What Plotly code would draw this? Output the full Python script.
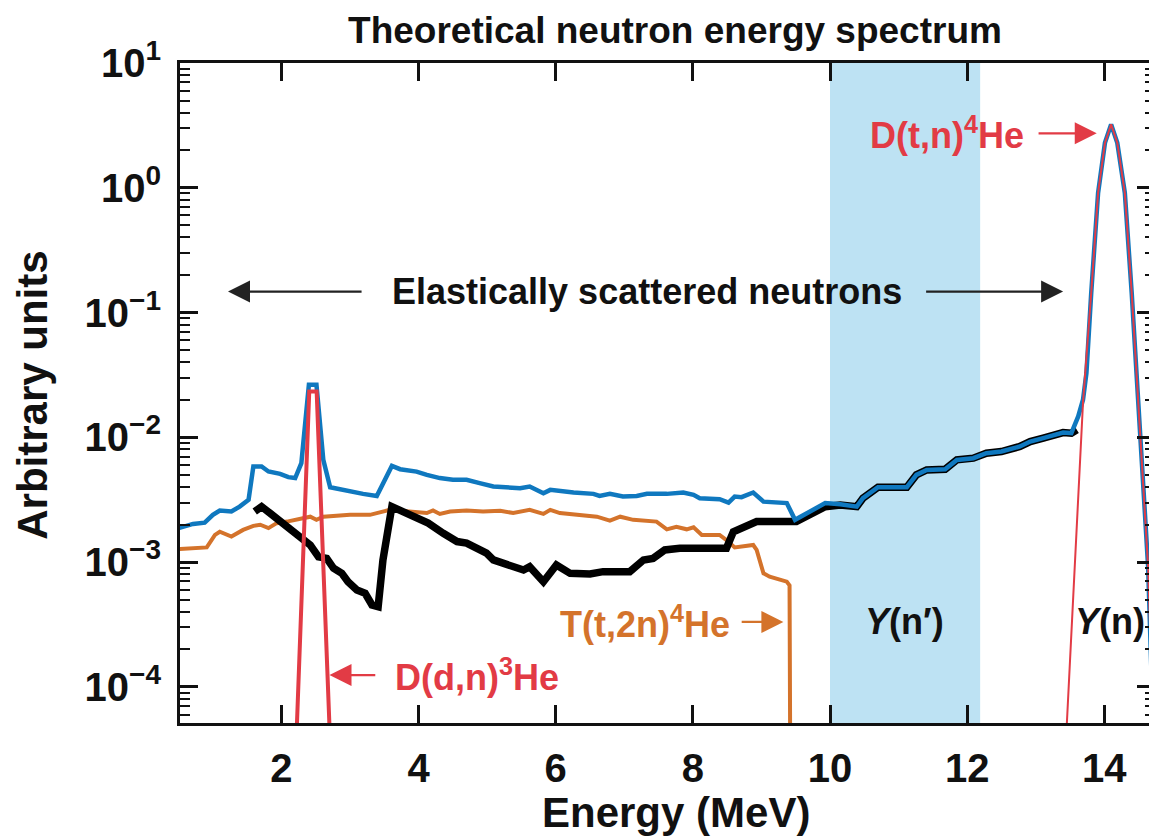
import plotly.graph_objects as go

# ---------------- data ----------------
total_x = [0.50, 0.71, 0.88, 1.00, 1.10, 1.27, 1.39, 1.52, 1.59, 1.71, 1.81, 1.98, 2.10, 2.20,
           2.29, 2.40, 2.51, 2.61, 2.71, 3.00, 3.19, 3.39, 3.61, 3.73, 3.97, 4.12, 4.31, 4.50,
           4.70, 4.89, 5.09, 5.48, 5.62, 5.82, 5.92, 6.26, 6.55, 6.64, 6.79, 6.98, 7.18, 7.33,
           7.62, 7.86, 8.01, 8.10, 8.39, 8.52, 8.61, 8.71, 8.88, 9.03, 9.17, 9.37, 9.49, 9.71,
           9.93, 10.15, 10.39, 10.48, 10.70, 11.12, 11.26, 11.41, 11.68, 11.85, 12.09, 12.28,
           12.50, 12.77, 12.92, 13.11, 13.40, 13.52, 13.62, 13.69, 13.74, 13.81, 13.91, 14.01,
           14.10, 14.19, 14.30, 14.40, 14.49, 14.64, 14.71, 14.80]
total_y = [1.87e-3, 2.02e-3, 2.07e-3, 2.39e-3, 2.59e-3, 2.54e-3, 2.78e-3, 3.15e-3, 5.83e-3,
           5.83e-3, 5.32e-3, 5.09e-3, 4.79e-3, 4.71e-3, 6.21e-3, 2.64e-2, 2.64e-2, 6.59e-3,
           3.98e-3, 3.67e-3, 3.52e-3, 3.39e-3, 5.90e-3, 5.55e-3, 5.31e-3, 5.00e-3, 4.71e-3,
           4.56e-3, 4.56e-3, 4.29e-3, 4.03e-3, 3.91e-3, 4.03e-3, 3.56e-3, 3.79e-3, 3.61e-3,
           3.52e-3, 3.39e-3, 3.52e-3, 3.35e-3, 3.39e-3, 3.52e-3, 3.52e-3, 3.61e-3, 3.46e-3,
           3.25e-3, 3.19e-3, 3.00e-3, 3.35e-3, 3.31e-3, 3.61e-3, 3.05e-3, 3.00e-3, 2.97e-3,
           2.18e-3, 2.54e-3, 2.97e-3, 2.90e-3, 2.78e-3, 3.25e-3, 3.98e-3, 3.98e-3, 5.00e-3,
           5.48e-3, 5.55e-3, 6.59e-3, 6.80e-3, 7.46e-3, 7.69e-3, 8.44e-3, 9.25e-3, 9.86e-3,
           1.09e-2, 1.08e-2, 1.47e-2, 2.00e-2, 3.27e-2, 0.144, 0.91, 2.29, 3.22, 2.29, 0.91,
           0.144, 2.27e-2, 9.1e-4, 5.4e-5, 2.0e-6]

elastic_x = [1.61, 1.71, 1.83, 2.08, 2.22, 2.42, 2.54, 2.66, 2.76, 2.88, 2.97, 3.10, 3.22, 3.32,
             3.41, 3.48, 3.61, 3.78, 3.97, 4.14, 4.36, 4.56, 4.70, 4.87, 4.99, 5.09, 5.33, 5.53,
             5.62, 5.82, 6.01, 6.21, 6.50, 6.69, 7.08, 7.28, 7.42, 7.59, 7.81, 8.49, 8.59, 8.78,
             8.93, 9.51, 9.76, 9.93, 10.15, 10.39, 10.48, 10.70, 11.12, 11.26, 11.41, 11.68,
             11.85, 12.09, 12.28, 12.50, 12.77, 12.92, 13.11, 13.40, 13.52, 13.60]
elastic_y = [2.54e-3, 2.78e-3, 2.47e-3, 1.92e-3, 1.70e-3, 1.37e-3, 1.10e-3, 1.07e-3, 8.91e-4,
             8.12e-4, 6.96e-4, 5.97e-4, 5.62e-4, 4.53e-4, 4.39e-4, 1.04e-3, 2.78e-3, 2.54e-3,
             2.25e-3, 2.05e-3, 1.70e-3, 1.46e-3, 1.42e-3, 1.25e-3, 1.18e-3, 1.04e-3, 9.47e-4,
             8.63e-4, 9.18e-4, 6.96e-4, 9.47e-4, 8.12e-4, 8.02e-4, 8.38e-4, 8.38e-4, 1.04e-3,
             1.07e-3, 1.25e-3, 1.29e-3, 1.29e-3, 1.75e-3, 1.98e-3, 2.11e-3, 2.11e-3, 2.47e-3,
             2.78e-3, 2.87e-3, 2.78e-3, 3.25e-3, 3.98e-3, 3.98e-3, 5.00e-3, 5.48e-3, 5.55e-3,
             6.59e-3, 6.80e-3, 7.46e-3, 7.69e-3, 8.44e-3, 9.25e-3, 9.86e-3, 1.09e-2, 1.08e-2,
             1.15e-2]

tt_x = [0.50, 0.71, 0.91, 1.03, 1.10, 1.27, 1.44, 1.59, 1.69, 1.81, 1.93, 2.08, 2.22, 2.37,
        2.42, 2.51, 2.61, 3.00, 3.29, 3.58, 3.87, 4.12, 4.21, 4.31, 4.46, 4.70, 4.94, 5.19,
        5.38, 5.62, 5.82, 5.92, 6.06, 6.35, 6.60, 6.79, 6.94, 7.13, 7.47, 7.62, 7.76, 7.91,
        8.01, 8.13, 8.39, 8.49, 8.61, 8.88, 8.93, 9.03, 9.12, 9.37, 9.41, 9.43]
tt_y = [1.27e-3, 1.29e-3, 1.31e-3, 1.65e-3, 1.75e-3, 1.60e-3, 1.81e-3, 1.95e-3, 1.99e-3,
        1.87e-3, 2.05e-3, 2.11e-3, 2.18e-3, 2.25e-3, 2.31e-3, 2.18e-3, 2.31e-3, 2.39e-3,
        2.39e-3, 2.62e-3, 2.54e-3, 2.47e-3, 2.59e-3, 2.43e-3, 2.54e-3, 2.59e-3, 2.54e-3,
        2.58e-3, 2.47e-3, 2.62e-3, 2.43e-3, 2.62e-3, 2.47e-3, 2.39e-3, 2.31e-3, 2.15e-3,
        2.31e-3, 2.18e-3, 2.11e-3, 1.83e-3, 1.92e-3, 1.83e-3, 1.90e-3, 1.65e-3, 1.65e-3,
        1.50e-3, 1.31e-3, 1.37e-3, 1.25e-3, 8.12e-4, 7.64e-4, 6.96e-4, 6.5e-4, 1.0e-6]

dd_x = [2.20, 2.405, 2.513, 2.72]
dd_y = [2.1e-5, 2.33e-2, 2.33e-2, 2.5e-5]

dt_x = [13.40, 13.69, 13.81, 13.91, 14.01, 14.10, 14.19, 14.30, 14.40, 14.49, 14.64, 14.71, 14.80]
dt_y = [1.3e-5, 1.9e-2, 0.144, 0.91, 2.29, 3.22, 2.29, 0.91, 0.144, 2.27e-2, 9.1e-4, 5.4e-5, 2.0e-6]

y_tick_vals = [1e-4, 1e-3, 1e-2, 1e-1, 1e0, 1e1]
y_tick_text = ["10<sup>−4</sup>", "10<sup>−3</sup>", "10<sup>−2</sup>",
               "10<sup>−1</sup>", "10<sup>0</sup>", "10<sup>1</sup>"]
x_tick_vals = [2, 4, 6, 8, 10, 12, 14]
yn_prime_band = [10.0, 12.19]

# ---------------- style ----------------
FONT = "Liberation Sans, Arial, Helvetica, sans-serif"
BLUE = "#0f78bf"
BLACK = "#000000"
ORANGE = "#d4732b"
RED = "#e23b45"
BAND = "#bde2f3"
INK = "#111111"

# the page body adds an 8 px offset; figure is sized so the plot lands where the reference has it
FIG_W, FIG_H = 1149, 832

minor_vals = [m * 10.0 ** e for e in range(-5, 1) for m in range(2, 10)]

fig = go.Figure()
fig.add_trace(go.Scatter(x=tt_x, y=tt_y, mode="lines", line=dict(color=ORANGE, width=4),
                         name="T(t,2n)4He"))
fig.add_trace(go.Scatter(x=elastic_x, y=elastic_y, mode="lines", line=dict(color=BLACK, width=7.5),
                         name="elastic"))
fig.add_trace(go.Scatter(x=total_x, y=total_y, mode="lines", line=dict(color=BLUE, width=4.5),
                         name="total"))
fig.add_trace(go.Scatter(x=dd_x, y=dd_y, mode="lines", line=dict(color=RED, width=4),
                         name="D(d,n)3He"))
fig.add_trace(go.Scatter(x=dt_x, y=dt_y, mode="lines", line=dict(color=RED, width=2),
                         name="D(t,n)4He"))

fig.add_shape(type="rect", xref="x", yref="paper", x0=yn_prime_band[0], x1=yn_prime_band[1],
              y0=0, y1=1, fillcolor=BAND, line=dict(width=0), layer="below")

ann = []
def text(x, y, s, color, size=36, xref="x", yref="y", angle=0):
    ann.append(dict(x=x, y=y, xref=xref, yref=yref, text=s, showarrow=False,
                    font=dict(family=FONT, size=size, color=color), textangle=angle,
                    xanchor="center", yanchor="middle"))

def arrow(xh, yh, xt, yt, color):
    ann.append(dict(x=xh, y=yh, ax=xt, ay=yt, xref="x", yref="y", axref="x", ayref="y",
                    text="", showarrow=True, arrowhead=2, arrowsize=2.0, arrowwidth=2.2,
                    arrowcolor=color))

text(7.33, -0.832, "<b>Elastically scattered neutrons</b>", INK)
arrow(1.22, -0.832, 3.19, -0.832, "#222222")
arrow(13.40, -0.832, 11.38, -0.832, "#222222")

text(11.70, 0.436, "<b>D(t,n)<sup>4</sup>He</b>", RED)
arrow(13.89, 0.436, 13.02, 0.436, RED)

text(4.85, -3.906, "<b>D(d,n)<sup>3</sup>He</b>", RED)
arrow(2.70, -3.906, 3.39, -3.906, RED)

text(7.30, -3.48, "<b>T(t,2n)<sup>4</sup>He</b>", ORANGE)
arrow(9.32, -3.48, 8.69, -3.48, ORANGE)

text(11.09, -3.48, "<b><i>Y</i>(n′)</b>", INK)
text(14.08, -3.48, "<b><i>Y</i>(n)</b>", INK)

text(7.75, -0.136, "<b>Energy (MeV)</b>", INK, size=42, yref="paper")
text(-0.151, 0.497, "<b>Arbitrary units</b>", INK, size=42, xref="paper", yref="paper",
     angle=-90)

fig.update_layout(
    width=FIG_W, height=FIG_H, autosize=False,
    margin=dict(l=172, r=2, t=55, b=117, autoexpand=False),
    paper_bgcolor="white", plot_bgcolor="white",
    showlegend=False,
    font=dict(family=FONT, color=INK),
    title=dict(text="<b>Theoretical neutron energy spectrum</b>", x=667 / FIG_W, xanchor="center",
               xref="container", y=1 - 22 / FIG_H, yanchor="middle", yref="container",
               font=dict(family=FONT, size=37, color=INK)),
    annotations=ann,
)

fig.update_xaxes(range=[0.52, 14.74], tickmode="array", tickvals=x_tick_vals,
                 ticks="inside", ticklen=18, tickwidth=3, tickcolor=INK,
                 showline=True, linewidth=3, linecolor=INK, mirror="ticks",
                 showgrid=False, zeroline=False,
                 tickfont=dict(family=FONT, size=40, color=INK, weight="bold"),
                 ticklabelstandoff=8)
fig.update_yaxes(type="log", range=[-4.29, 1.0], tickmode="array", tickvals=y_tick_vals,
                 ticktext=y_tick_text,
                 ticks="inside", ticklen=18, tickwidth=3, tickcolor=INK,
                 showline=True, linewidth=3, linecolor=INK, mirror="ticks",
                 showgrid=False, zeroline=False,
                 minor=dict(tickmode="array", tickvals=minor_vals, ticks="inside", ticklen=10,
                            tickwidth=2, tickcolor=INK, showgrid=False),
                 tickfont=dict(family=FONT, size=40, color=INK, weight="bold"),
                 ticklabelstandoff=8)

fig.write_html("out.html")
